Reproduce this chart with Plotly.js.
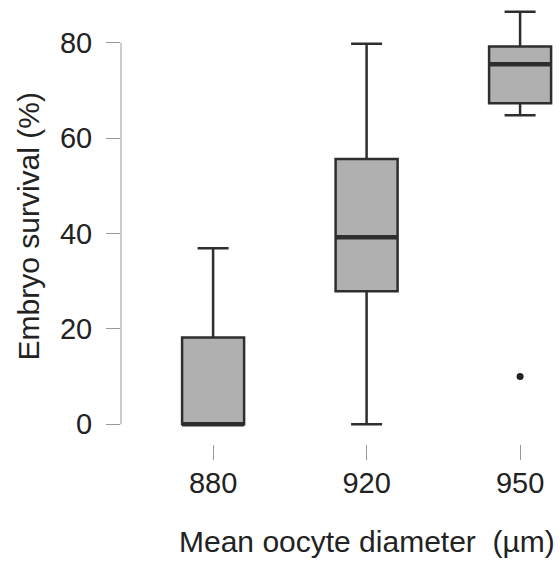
<!DOCTYPE html>
<html>
<head>
<meta charset="utf-8">
<script src="https://cdn.plot.ly/plotly-3.0.1.min.js"></script>
<style>html,body{margin:0;padding:0;background:#fff;}#chart{width:560px;height:563px;}</style>
</head>
<body>
<div id="chart"></div>
<script>
// Data
const categories = ['880', '920', '950'];
const lowerWhisker = [0, 0, 64.8];
const q1 = [0, 27.9, 67.3];
const medians = [0, 39.2, 75.5];
const q3 = [18.2, 55.6, 79.2];
const upperWhisker = [36.9, 79.8, 86.5];
const outlierCat = ['950'];
const outlierVal = [10.0];
const yTicks = [0, 20, 40, 60, 80];

const pos = categories.map((c, i) => i);
const boxWidth = 0.404;
const hw = boxWidth / 2;

const medX = [], medY = [];
pos.forEach((p, i) => { medX.push(p - hw, p + hw, null); medY.push(medians[i], medians[i], null); });
const outX = outlierCat.map(c => categories.indexOf(c));

const font = "'Liberation Sans', Arial, sans-serif";
const txt = '#222222';

const traces = [
  {
    type: 'box',
    x: pos,
    q1: q1, median: medians, q3: q3,
    lowerfence: lowerWhisker, upperfence: upperWhisker,
    width: boxWidth,
    whiskerwidth: 0.5,
    boxpoints: false,
    fillcolor: '#b0b0b0',
    line: {color: '#2e2e2e', width: 2.5},
    hoverinfo: 'skip',
    showlegend: false
  },
  {
    type: 'scatter', mode: 'lines',
    x: medX, y: medY,
    line: {color: '#2e2e2e', width: 4.5},
    hoverinfo: 'skip', showlegend: false
  },
  {
    type: 'scatter', mode: 'markers',
    x: outX, y: outlierVal,
    marker: {color: '#222', size: 7},
    hoverinfo: 'skip', showlegend: false
  }
];

const layout = {
  width: 560, height: 563,
  margin: {l: 121, r: 0, t: 0, b: 119},
  paper_bgcolor: '#fff', plot_bgcolor: '#fff',
  font: {family: font, color: txt, size: 29},
  showlegend: false,
  xaxis: {
    range: [-0.6, 2.26],
    tickvals: pos, ticktext: categories,
    showgrid: false, zeroline: false, showline: false,
    ticks: 'outside', ticklen: 15, tickcolor: '#999', tickwidth: 1,
    ticklabelstandoff: -2,
    tickfont: {family: font, size: 29, color: txt},
    fixedrange: true
  },
  yaxis: {
    range: [-4.13, 88.95],
    tickvals: yTicks,
    showgrid: false, zeroline: false, showline: false,
    ticks: 'outside', ticklen: 14, tickcolor: '#999', tickwidth: 1,
    ticklabelstandoff: 8,
    tickfont: {family: font, size: 29, color: txt},
    fixedrange: true
  },
  shapes: [
    {type: 'line', xref: 'paper', yref: 'y', x0: 0, x1: 0,
     y0: Math.min(...yTicks), y1: Math.max(...yTicks),
     line: {color: '#999', width: 1}}
  ],
  annotations: [
    {text: 'Embryo survival (%)', xref: 'paper', yref: 'paper', x: 0, y: 0.49,
     xanchor: 'center', yanchor: 'middle', xshift: -93, textangle: -90, showarrow: false,
     font: {family: font, size: 30, color: txt}},
    {text: 'Mean oocyte diameter\u00a0\u00a0(µm)', xref: 'x', yref: 'paper', x: 1, y: 0,
     xanchor: 'center', yanchor: 'middle', yshift: -97, showarrow: false,
     font: {family: font, size: 30, color: txt}}
  ]
};

Plotly.newPlot('chart', traces, layout, {displayModeBar: false, staticPlot: true});
</script>
</body>
</html>
